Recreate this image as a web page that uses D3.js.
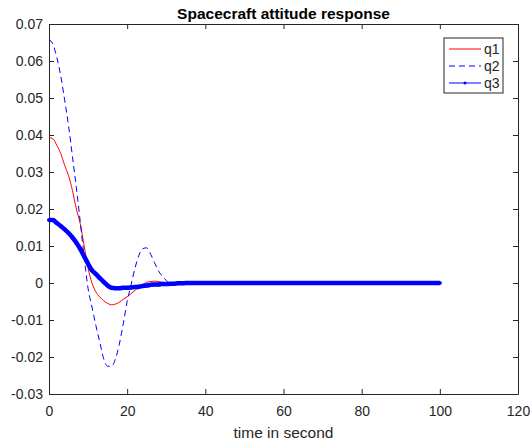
<!DOCTYPE html>
<html>
<head>
<meta charset="utf-8">
<script src="https://cdn.jsdelivr.net/npm/d3@7"></script>
<style>
  body { margin: 0; background: #fff; }
  svg { display: block; font-family: "Liberation Sans", Arial, sans-serif; }
</style>
</head>
<body>
<svg id="chart"></svg>
<script>
// tiempo (s) y respuestas de actitud
var tiempo = [0,1,2,3,4,5,6,7,8,9,10,11,12,13,14,15,16,17,18,19,20,21,22,23,24,25,26,27,28,29,30,31,32,33,34,35,40,45,50,55,60,65,70,75,80,85,90,95,100];
var q1 = [0.0393,0.0390,0.0372,0.0350,0.0318,0.0290,0.0250,0.0200,0.0160,0.0100,0.0040,0.0000,-0.0024,-0.0038,-0.0048,-0.0055,-0.0059,-0.0057,-0.0052,-0.0044,-0.0037,-0.0029,-0.0020,-0.0011,-0.0004,0.0002,0.0004,0.0005,0.0004,0.0002,0,0,0,0,0,0,0,0,0,0,0,0,0,0,0,0,0,0,0];
var q2 = [0.0658,0.0645,0.0610,0.0560,0.0495,0.0425,0.0342,0.0258,0.0165,0.0070,-0.0015,-0.0065,-0.0115,-0.0160,-0.0205,-0.0225,-0.0225,-0.0205,-0.0165,-0.0110,-0.0050,-0.0005,0.0040,0.0075,0.0093,0.0095,0.0078,0.0055,0.0033,0.0018,0.0007,0,0,0,0,0,0,0,0,0,0,0,0,0,0,0,0,0,0];
var q3 = [0.0170,0.0170,0.0162,0.0154,0.0145,0.0135,0.0123,0.0109,0.0092,0.0072,0.0052,0.0034,0.0024,0.0013,0.0003,-0.0007,-0.0013,-0.0014,-0.0014,-0.0013,-0.0013,-0.0012,-0.0011,-0.0010,-0.0008,-0.0007,-0.0005,-0.0004,-0.0004,-0.0003,-0.0003,-0.0002,-0.0002,-0.0001,-0.0001,0,0,0,0,0,0,0,0,0,0,0,0,0,0];
var ticksX = [0,20,40,60,80,100,120];
var ticksY = [-0.03,-0.02,-0.01,0,0.01,0.02,0.03,0.04,0.05,0.06,0.07];
var nombres = ["q1","q2","q3"];

var anchura = 530, altura = 442;
var margen = { top: 24, right: 12, bottom: 48, left: 49 };
var w = anchura - margen.left - margen.right;
var h = altura - margen.top - margen.bottom;
var colorEje = "#262626";

var svg = d3.select("#chart").attr("width", anchura).attr("height", altura);
var g = svg.append("g").attr("transform", "translate(" + margen.left + "," + margen.top + ")");

var x = d3.scaleLinear().domain([0, 120]).range([0, w]);
var y = d3.scaleLinear().domain([-0.03, 0.07]).range([h, 0]);

function fmt(d) { return Math.abs(d) < 1e-10 ? "0" : d.toFixed(2); }

// Ejes con marcas hacia dentro
function estilo(sel) {
    sel.selectAll("path").attr("stroke", colorEje).attr("stroke-width", 1);
    sel.selectAll("line").attr("stroke", colorEje);
    sel.selectAll("text").attr("fill", colorEje).style("font-size", "14px");
}
g.append("g").attr("transform", "translate(0," + h + ")")
    .call(d3.axisBottom(x).tickValues(ticksX).tickSize(-5).tickPadding(12).tickSizeOuter(0))
    .call(estilo);
g.append("g")
    .call(d3.axisLeft(y).tickValues(ticksY).tickFormat(fmt).tickSize(-5).tickPadding(6).tickSizeOuter(0))
    .call(estilo);
g.append("g")
    .call(d3.axisTop(x).tickValues(ticksX).tickFormat("").tickSize(-5).tickSizeOuter(0))
    .call(estilo);
g.append("g").attr("transform", "translate(" + w + ",0)")
    .call(d3.axisRight(y).tickValues(ticksY).tickFormat("").tickSize(-5).tickSizeOuter(0))
    .call(estilo);

// Curvas
var linea = function (serie) {
    return d3.line()
        .x(function (d, i) { return x(tiempo[i]); })
        .y(function (d) { return y(d); })
        .curve(d3.curveMonotoneX)(serie);
};
g.append("path").attr("d", linea(q1)).attr("fill", "none").attr("stroke", "#ff0000").attr("stroke-width", 1);
g.append("path").attr("d", linea(q2)).attr("fill", "none").attr("stroke", "#0000ff").attr("stroke-width", 1).attr("stroke-dasharray", "6,4");
g.append("path").attr("d", linea(q3)).attr("fill", "none").attr("stroke", "#0000ff").attr("stroke-width", 4.5);
g.selectAll(".punto").data(q3).join("circle").attr("class", "punto")
    .attr("cx", function (d, i) { return x(tiempo[i]); })
    .attr("cy", function (d) { return y(d); })
    .attr("r", 2).attr("fill", "#0000ff");

// Titulo y etiqueta
svg.append("text").attr("x", margen.left + w / 2).attr("y", 19).attr("text-anchor", "middle")
    .style("font-size", "15.5px").style("font-weight", "bold").attr("fill", "#000")
    .text("Spacecraft attitude response");
svg.append("text").attr("x", margen.left + w / 2).attr("y", 437.5).attr("text-anchor", "middle")
    .style("font-size", "15.5px").attr("fill", colorEje)
    .text("time in second");

// Leyenda
var ley = g.append("g").attr("transform", "translate(" + (444 - margen.left) + "," + (38 - margen.top) + ")");
ley.append("rect").attr("width", 59).attr("height", 55).attr("fill", "#fff").attr("stroke", colorEje).attr("stroke-width", 1);
var estilos = [
    { color: "#ff0000", dash: null },
    { color: "#0000ff", dash: "6,4" },
    { color: "#0000ff", dash: null }
];
nombres.forEach(function (n, i) {
    var yy = 11 + i * 17;
    ley.append("line").attr("x1", 5).attr("x2", 37).attr("y1", yy).attr("y2", yy)
        .attr("stroke", estilos[i].color).attr("stroke-width", 1).attr("stroke-dasharray", estilos[i].dash);
    if (i === 2) ley.append("circle").attr("cx", 21).attr("cy", yy).attr("r", 1.5).attr("fill", "#0000ff");
    ley.append("text").attr("x", 40).attr("y", yy + 5).style("font-size", "14px").attr("fill", colorEje).text(n);
});
</script>
</body>
</html>
